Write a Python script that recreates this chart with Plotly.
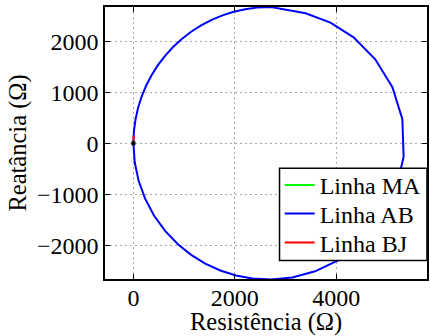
import plotly.graph_objects as go

# Impedance locus of line AB (resistance, reactance in ohms)
ab_r = [0, 10, 41, 91, 161, 250, 358, 483, 625, 782, 954, 1139, 1335, 1542,
        1757, 1979, 2206, 2437, 2717, 3396, 3886, 4343, 4769, 5108, 5304,
        5329, 5179, 4884, 4491, 4045, 3583, 3134, 2717, 2345, 2024, 1713,
        1417, 1139, 883, 625, 406, 231, 103, 26, 0]
ab_x = [0, 233, 464, 691, 913, 1128, 1335, 1532, 1716, 1888, 2045, 2187,
        2312, 2420, 2509, 2579, 2629, 2660, 2670, 2549, 2365, 2078, 1647,
        1098, 471, -263, -913, -1493, -1953, -2289, -2509, -2629, -2670,
        -2650, -2591, -2493, -2358, -2187, -1984, -1716, -1415, -1086, -736,
        -372, 0]

# Lines MA and BJ stay close to the origin
ma_r = [0, 2, 4]
ma_x = [0, 20, 40]
bj_r = [0, 1, 2]
bj_x = [50, 100, 150]

origin_r = [0]
origin_x = [0]

x_ticks = [0, 2000, 4000]
y_ticks = [-2000, -1000, 0, 1000, 2000]

FONT = "Liberation Serif"
BLACK = "black"

fig = go.Figure()
fig.add_trace(go.Scatter(x=ma_r, y=ma_x, mode="lines", name="Linha MA",
                         legend="legend",
                         line=dict(color="#00ff00", width=2)))
fig.add_trace(go.Scatter(x=ab_r, y=ab_x, mode="lines", name="Linha AB",
                         legend="legend2",
                         line=dict(color="#0000ff", width=2)))
fig.add_trace(go.Scatter(x=bj_r, y=bj_x, mode="lines", name="Linha BJ",
                         legend="legend3",
                         line=dict(color="#ff0000", width=2)))
fig.add_trace(go.Scatter(x=origin_r, y=origin_x, mode="markers",
                         showlegend=False,
                         marker=dict(color=BLACK, size=4, symbol="square")))

axis_common = dict(
    showline=True, linecolor=BLACK, linewidth=1.5, mirror="ticks",
    ticks="inside", ticklen=5, tickcolor=BLACK, tickwidth=1,
    showgrid=True, gridcolor="#a8a8a8", griddash="2px,3px", gridwidth=1,
    zeroline=False,
    tickfont=dict(family=FONT, size=24, color=BLACK),
)

fig.update_xaxes(range=[-560, 5790], tickvals=x_ticks,
                 ticklabelstandoff=-4, **axis_common)
fig.update_yaxes(range=[-2660, 2672], tickvals=y_ticks, **axis_common)

title_font = dict(family=FONT, size=24.5, color=BLACK)
fig.add_annotation(text="Resistência (Ω)", xref="paper", yref="paper",
                   x=0.5, y=-0.158, xanchor="center", yanchor="middle",
                   showarrow=False, font=title_font)
fig.add_annotation(text="Reatância (Ω)", xref="paper", yref="paper",
                   x=-0.2716, y=0.5, xanchor="center", yanchor="middle",
                   textangle=-90, showarrow=False, font=title_font)

# Legend frame drawn over the curve; each entry sits inside it
fig.add_shape(type="rect", xref="paper", yref="paper",
              x0=0.542, x1=1.0, y0=0.068, y1=0.407,
              fillcolor="white", line=dict(color=BLACK, width=1.5),
              layer="above")

legend_common = dict(
    x=0.5425, xanchor="left", yanchor="middle",
    bgcolor="rgba(0,0,0,0)", borderwidth=0,
    font=dict(family=FONT, size=24, color=BLACK),
    itemwidth=30,
)

fig.update_layout(
    width=430, height=336,
    margin=dict(l=105, r=1, t=7, b=57),
    paper_bgcolor="white", plot_bgcolor="white",
    font=dict(family=FONT, size=24, color=BLACK),
    legend=dict(y=0.3438, **legend_common),
    legend2=dict(y=0.239, **legend_common),
    legend3=dict(y=0.1324, **legend_common),
)

fig.write_html("out.html")
